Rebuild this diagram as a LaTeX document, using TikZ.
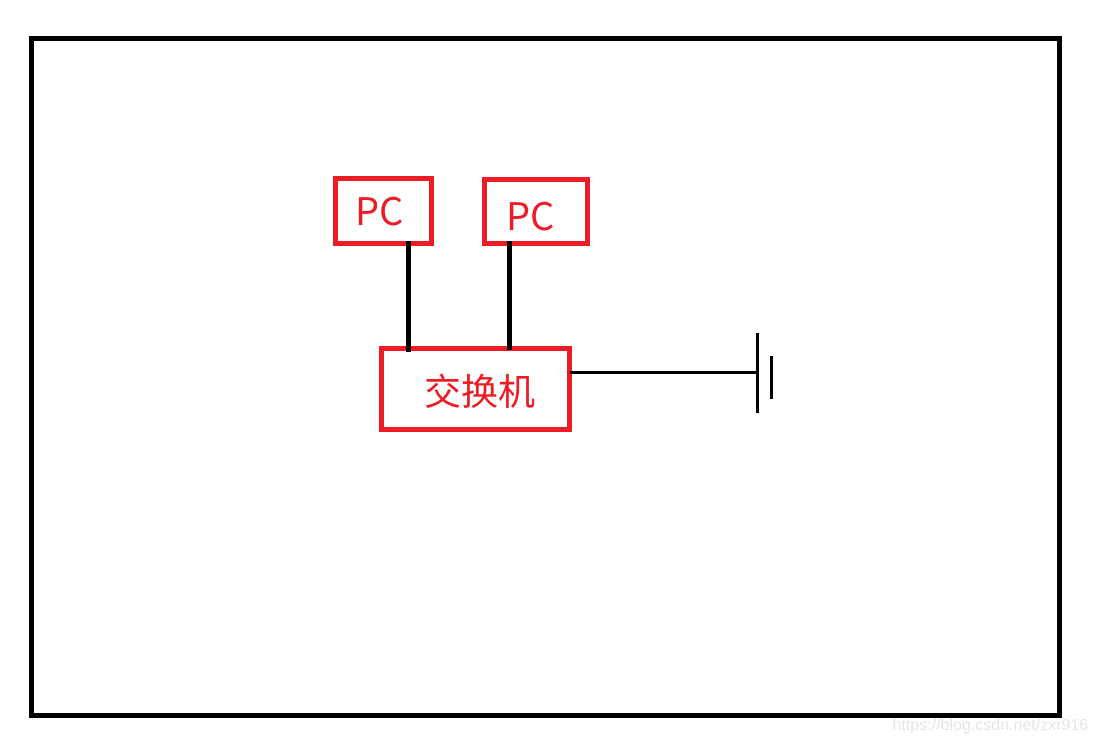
\documentclass[tikz,border=0pt]{standalone}
\usepackage{fontspec}
\newfontfamily\cjk{Noto Sans CJK SC}
\setmainfont{Liberation Sans}
\definecolor{boxred}{HTML}{ED1C24}
\definecolor{wm}{HTML}{E6E6E6}
\tikzset{
  px/.style={x=0.75pt,y=-0.75pt},
  redbox/.style={draw=boxred,line width=3.75pt,rectangle,inner sep=0pt,outer sep=0pt,anchor=north west},
  redtext/.style={text=boxred,inner sep=0pt,font=\cjk},
  thicklink/.style={black,line width=3.6pt},
  thinline/.style={black,line width=2.25pt},
}
\begin{document}
\begin{tikzpicture}[px]
\useasboundingbox (0,0) rectangle (1096,744);
\fill[white] (0,0) rectangle (1096,744);
\draw[black,line width=3.75pt] (31.5,38.5) rectangle (1059.5,715.5);
\node[redbox,minimum width=72pt,minimum height=48.75pt] (pc1) at (335.5,178.5) {};
\node[redbox,minimum width=77pt,minimum height=48pt] (pc2) at (484.8,179.5) {};
\node[redbox,minimum width=141pt,minimum height=60.6pt] (sw) at (381.5,348.5) {};
\node[redtext,font=\cjk\fontsize{28.5pt}{30pt}\selectfont] (t1) at (379.5,212) {PC};
\node[redtext,font=\cjk\fontsize{28.5pt}{30pt}\selectfont] (t2) at (530.5,217) {PC};
\node[redtext,font=\cjk\fontsize{27.8pt}{30pt}\selectfont] (t3) at (480,391) {交换机};
\coordinate (l1) at (408.5,0);
\coordinate (l2) at (509.3,0);
\coordinate (plateA) at (757.3,372.3);
\coordinate (plateAt) at (757.3,333);
\coordinate (plateAb) at (757.3,413);
\coordinate (plateBt) at (771.3,356);
\coordinate (plateBb) at (771.3,399);
\draw[thicklink,shorten <=-2pt,shorten >=-2.4pt] (pc1.south -| l1) -- (sw.north -| l1);
\draw[thicklink,shorten <=-2pt,shorten >=-1.4pt] (pc2.south -| l2) -- (sw.north -| l2);
\draw[thinline] (sw.east |- plateA) -- (plateA);
\draw[thinline] (plateAt) -- (plateAb);
\draw[thinline] (plateBt) -- (plateBb);
\node[text=wm,inner sep=0pt,font=\fontsize{12pt}{14pt}\selectfont] (mark) at (990.5,726) {https://blog.csdn.net/zxr916};
\end{tikzpicture}
\end{document}
